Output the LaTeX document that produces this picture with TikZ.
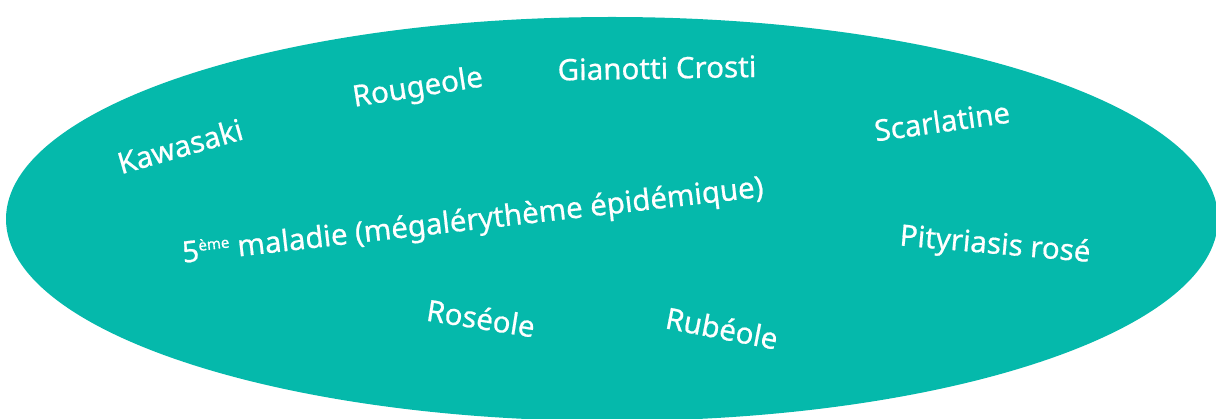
\documentclass[tikz,border=0pt]{standalone}
\usepackage{fontspec}
\setmainfont{Noto Sans}[FakeBold=0.6]
\usepackage{xcolor}
\usepackage{tikz}
\usetikzlibrary{shapes,positioning}

\definecolor{lagoon}{HTML}{05B9AB}

\begin{document}
\begin{tikzpicture}[x=1pt, y=-1pt,
    sickname/.style={text=white, font=\bfseries\fontsize{29.5}{34}\selectfont, inner sep=0pt}]
    \useasboundingbox (0,0) rectangle (1216,419);
    \node (blob) [ellipse, fill=lagoon, inner sep=0pt, minimum width=1212pt, minimum height=404pt] at (612,219) {};

    \node (kawasaki) [sickname, rotate=16] at (180,146) {Kawasaki};
    \node (rougeole) [sickname, rotate=9] at (418,89) {Rougeole};
    \node (gianotti) [sickname, rotate=1] at (657,68) {Gianotti Crosti};
    \node (scarlatine) [sickname, rotate=8] at (942,121) {Scarlatine};
    \node (cinquieme) [sickname, rotate=6.5] at (473,222) {5{\fontsize{15}{18}\selectfont\raisebox{10pt}{ème}} maladie (mégalérythème épidémique)};
    \node (pityriasis) [sickname, rotate=-5] at (995,246) {Pityriasis rosé};
    \node (roseole) [sickname, rotate=-9] at (481,318) {Roséole};
    \node (rubeole) [sickname, rotate=-11] at (722,328) {Rubéole};
\end{tikzpicture}
\end{document}
